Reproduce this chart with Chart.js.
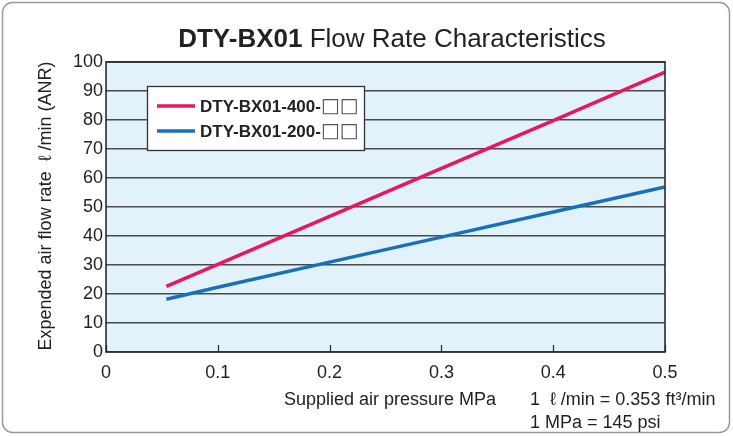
<!DOCTYPE html>
<html>
<head>
<meta charset="utf-8">
<script src="https://cdn.jsdelivr.net/npm/chart.js@4.4.1/dist/chart.umd.min.js"></script>
<style>
  html, body { margin: 0; padding: 0; background: #fff; }
  #wrap { width: 733px; height: 436px; }
</style>
</head>
<body>
<div id="wrap"><canvas id="flowChart" width="733" height="436"></canvas></div>
<script>
// values
const seriesNames = ['DTY-BX01-400-', 'DTY-BX01-200-'];
const pressure400 = [0.054, 0.1, 0.2, 0.3, 0.4, 0.5];
const flow400 = [22.6, 30.2, 46.8, 63.3, 79.8, 96.5];
const pressure200 = [0.054, 0.1, 0.2, 0.3, 0.4, 0.5];
const flow200 = [18.2, 22.3, 31.0, 39.6, 48.3, 56.9];
const xTicks = [0, 0.1, 0.2, 0.3, 0.4, 0.5];
const yTicks = [0, 10, 20, 30, 40, 50, 60, 70, 80, 90, 100];

const pink = '#e8175d';
const blue = '#1a70b8';
const FONT = '"Liberation Sans", Arial, sans-serif';

const toPoints = (xs, ys) => xs.map((x, i) => ({ x: x, y: ys[i] }));

const decor = {
  id: 'decor',
  beforeDraw(chart) {
    const c = chart.ctx, a = chart.chartArea;
    c.save();
    // outer frame
    c.strokeStyle = '#9a9a9a';
    c.lineWidth = 1.5;
    c.beginPath();
    c.roundRect(2.5, 2.5, 727, 430, 10);
    c.stroke();
    // plot background
    c.fillStyle = '#e1f2fa';
    c.fillRect(a.left, a.top, a.right - a.left, a.bottom - a.top);
    c.restore();
  },
  afterDatasetsDraw(chart) {
    const c = chart.ctx, a = chart.chartArea;
    const xs = chart.scales.x;
    c.save();
    // inward x ticks
    c.strokeStyle = '#333';
    c.lineWidth = 1.3;
    xTicks.forEach(v => {
      const px = Math.round(xs.getPixelForValue(v)) + 0.5;
      c.beginPath();
      c.moveTo(px, a.bottom);
      c.lineTo(px, a.bottom - 7);
      c.stroke();
    });
    // plot frame
    c.strokeStyle = '#2a2a2a';
    c.lineWidth = 1.6;
    c.strokeRect(a.left, a.top, a.right - a.left, a.bottom - a.top);

    // legend box
    const lx = 147, ly = 86, lw = 217, lh = 64;
    c.fillStyle = '#fff';
    c.fillRect(lx, ly, lw, lh);
    c.strokeStyle = '#333';
    c.lineWidth = 1.3;
    c.strokeRect(lx + 0.5, ly + 0.5, lw, lh);
    const colors = [pink, blue];
    c.textBaseline = 'middle';
    c.textAlign = 'left';
    seriesNames.forEach((n, i) => {
      const y = 106 + i * 25;
      c.strokeStyle = colors[i];
      c.lineWidth = 3.5;
      c.beginPath();
      c.moveTo(157, y);
      c.lineTo(195, y);
      c.stroke();
      c.fillStyle = '#222';
      c.font = 'bold 17px ' + FONT;
      c.fillText(n, 200, y + 1);
      const w = c.measureText(n).width;
      c.fillStyle = '#555';
      c.font = '20px "DejaVu Sans"';
      c.fillText('\u25A1\u25A1', 200 + w, y + 1);
    });

    // title
    c.fillStyle = '#222';
    c.textBaseline = 'alphabetic';
    c.font = 'bold 26px ' + FONT;
    const t1 = 'DTY-BX01';
    const w1 = c.measureText(t1).width;
    c.font = '26px ' + FONT;
    const t2 = ' Flow Rate Characteristics';
    const w2 = c.measureText(t2).width;
    let tx = 392 - (w1 + w2) / 2;
    c.font = 'bold 26px ' + FONT;
    c.fillText(t1, tx, 47);
    c.font = '26px ' + FONT;
    c.fillText(t2, tx + w1, 47);

    // axis titles and note
    c.font = '18px ' + FONT;
    c.textBaseline = 'middle';
    c.textAlign = 'center';
    c.fillText('Supplied air pressure MPa', 390, 400);
    c.textAlign = 'left';
    c.fillText('1  \u2113 /min = 0.353 ft\u00B3/min', 530, 400);
    c.fillText('1 MPa = 145 psi', 530, 423);

    c.translate(46, 206);
    c.rotate(-Math.PI / 2);
    c.textAlign = 'center';
    c.fillText('Expended air flow rate  \u2113 /min (ANR)', 0, 0);
    c.restore();
  }
};

const ctx = document.getElementById('flowChart').getContext('2d');

new Chart(ctx, {
  type: 'line',
  data: {
    datasets: [
      {
        label: seriesNames[0],
        data: toPoints(pressure400, flow400),
        borderColor: pink,
        borderWidth: 3.5,
        pointRadius: 0,
        tension: 0
      },
      {
        label: seriesNames[1],
        data: toPoints(pressure200, flow200),
        borderColor: blue,
        borderWidth: 3.5,
        pointRadius: 0,
        tension: 0
      }
    ]
  },
  options: {
    responsive: false,
    animation: false,
    layout: { padding: { left: 0, top: 62, right: 68, bottom: 0 } },
    plugins: {
      legend: { display: false },
      title: { display: false },
      tooltip: { enabled: false }
    },
    scales: {
      x: {
        type: 'linear',
        min: 0,
        max: 0.5,
        afterFit: s => { s.height = 84; },
        afterBuildTicks: s => { s.ticks = xTicks.map(v => ({ value: v })); },
        grid: { display: false, drawTicks: false },
        border: { display: false },
        ticks: {
          padding: 10,
          color: '#222',
          font: { family: FONT, size: 18 },
          callback: v => String(v)
        }
      },
      y: {
        min: 0,
        max: 100,
        afterFit: s => { s.width = 106; },
        afterBuildTicks: s => { s.ticks = yTicks.map(v => ({ value: v })); },
        grid: { color: '#4a4a4a', lineWidth: 1.4, drawTicks: false },
        border: { display: false },
        ticks: {
          padding: 3,
          color: '#222',
          font: { family: FONT, size: 18 }
        }
      }
    }
  },
  plugins: [decor]
});
</script>
</body>
</html>
